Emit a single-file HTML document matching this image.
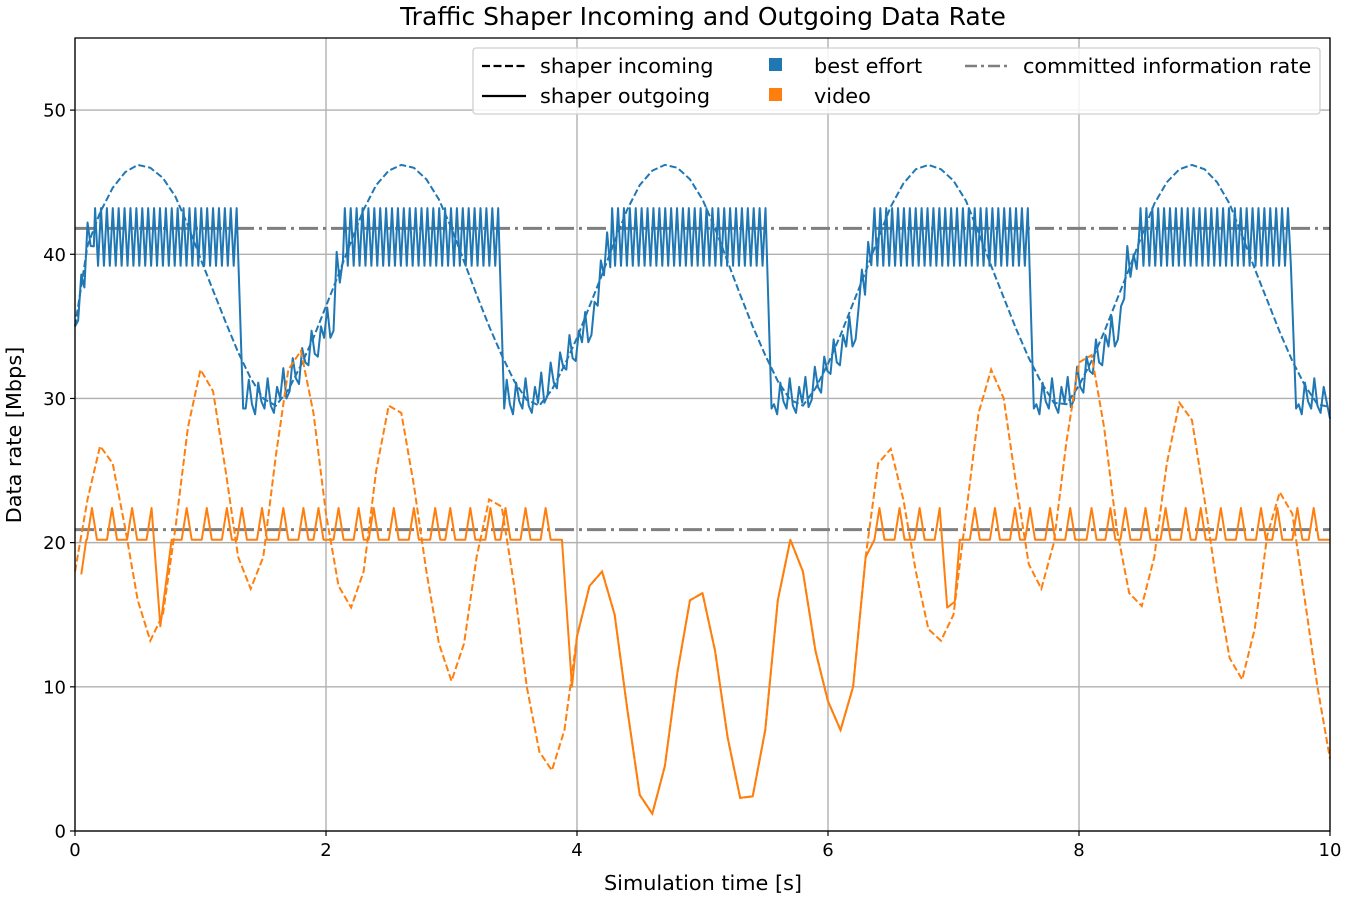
<!DOCTYPE html>
<html><head><meta charset="utf-8"><style>
body{margin:0;background:#fff;}
svg{display:block;font-family:"DejaVu Sans","Liberation Sans",sans-serif;}
</style></head><body>
<svg id="chart" width="1350" height="900" viewBox="0 0 1350 900" xmlns="http://www.w3.org/2000/svg"></svg>
<script>
// ---- data ----
const xTicks = [0, 2, 4, 6, 8, 10];
const yTicks = [0, 10, 20, 30, 40, 50];
const sampleTimes = [0,0.1,0.2,0.3,0.4,0.5,0.6,0.7,0.8,0.9,1,1.1,1.2,1.3,1.4,1.5,1.6,1.7,1.8,1.9,2,2.1,2.2,2.3,2.4,2.5,2.6,2.7,2.8,2.9,3,3.1,3.2,3.3,3.4,3.5,3.6,3.7,3.8,3.9,4,4.1,4.2,4.3,4.4,4.5,4.6,4.7,4.8,4.9,5,5.1,5.2,5.3,5.4,5.5,5.6,5.7,5.8,5.9,6,6.1,6.2,6.3,6.4,6.5,6.6,6.7,6.8,6.9,7,7.1,7.2,7.3,7.4,7.5,7.6,7.7,7.8,7.9,8,8.1,8.2,8.3,8.4,8.5,8.6,8.7,8.8,8.9,9,9.1,9.2,9.3,9.4,9.5,9.6,9.7,9.8,9.9,10];
const beIncoming = [35,40.6,42.9,44.6,45.7,46.2,46.0,45.3,44.0,42.0,39.7,37.5,35.3,33.2,31.4,30.0,29.5,30.6,32.3,34.2,36.4,38.6,40.9,43.1,44.8,45.8,46.2,46.0,45.2,43.8,41.8,39.5,37.2,35.0,33.0,31.2,29.9,29.5,30.6,32.3,34.2,36.4,38.6,40.9,43.1,44.8,45.8,46.2,46.0,45.2,43.8,41.8,39.5,37.2,35.0,33.0,31.2,29.9,29.5,30.7,32.4,34.4,36.6,38.8,41.1,43.3,44.9,45.9,46.2,45.9,45.1,43.7,41.5,39.2,37.0,34.8,32.8,31.1,29.7,29.6,30.9,32.6,34.6,36.8,39.0,41.3,43.5,45.0,45.9,46.2,45.9,45.0,43.5,41.3,39.0,36.8,34.6,32.6,30.9,29.6,29.4];
const videoIncoming = [18,23,26.7,25.5,21,16,13.2,15,21,28,32,30.5,25,19,16.8,19,26,32,33.3,29,22,17,15.5,18,25,29.5,29,24,18,13,10.4,13,19,23,22.5,17,10,5.5,4.2,7,13.5,17,18,15,8.5,2.5,1.2,4.5,11,16,16.5,12.5,6.5,2.3,2.4,7,16,20.2,18,12.5,9,7,10,19,25.5,26.5,23,18,14,13.2,15,22,29,32,30,24,18.5,16.8,20,27,32.5,33,28,21,16.5,15.6,19,25.5,29.7,28.5,23,17,12,10.5,14,20.5,23.5,22,16,10,5];
const beTeethIntervals = [[0.16,1.31],[2.15,3.39],[4.28,5.52],[6.37,7.61],[8.49,9.7]];
const beTeethHigh = 43.2, beTeethLow = 39.2, beToothHalfPeriod = 0.0235;
const beTroughFloor = 29.3;
const beJitter = [-1.0,0.8,-1.5,1.6,-0.6,-1.2,1.9,-0.8,0.2,-1.4,1.2,-0.4,2.0];
const beTroughJitter = [0,2.0,0.3,-0.4,1.8,0.5,0,2.1,0.2,-0.3,1.5,0.4,2.2,-0.2];
const videoSpikeTimes = [0.135,0.295,0.455,0.61,0.89,1.05,1.21,1.33,1.49,1.66,1.82,1.94,2.1,2.26,2.38,2.54,2.7,2.87,2.99,3.15,3.31,3.43,3.59,3.75,6.41,6.57,6.73,6.89,7.17,7.33,7.49,7.61,7.77,7.93,8.1,8.25,8.37,8.53,8.69,8.85,8.97,9.13,9.29,9.45,9.58,9.74,9.87];
const videoPlateau = 20.2, videoSpikePeak = 22.4;
const videoPlateauIntervals = [[0.05,0.62],[0.77,3.88],[6.37,6.92],[7.05,10]];
const videoFollowInterval = [4.0, 6.3];
const videoEdgeT = [0.05,0.09,0.68,0.77,3.88,3.96,6.37,6.95,7.01,7.05,10];
const videoEdgeV = [17.8,20.2,14.2,20.2,20.2,10,20.2,15.5,15.9,20.2,20.2];
const cirLevels = [41.8, 20.9];

// ---- scales ----
const L=75,R=1330,T=38,B=831, XMAX=10, YMAX=55;
const X = t => L + t*(R-L)/XMAX;
const Y = v => B - v*(B-T)/YMAX;
const NS="http://www.w3.org/2000/svg";
const svg=document.getElementById('chart');
function mk(tag, attrs, parent){const e=document.createElementNS(NS,tag);for(const k in attrs)e.setAttribute(k,attrs[k]);(parent||svg).appendChild(e);return e;}
function interp(arrT,arrV,t){for(let i=0;i<arrT.length-1;i++){if(t>=arrT[i]&&t<=arrT[i+1]){const f=(t-arrT[i])/(arrT[i+1]-arrT[i]);return arrV[i]+f*(arrV[i+1]-arrV[i]);}}return arrV[arrV.length-1];}
const pathD = pts => pts.map((p,i)=>(i?'L':'M')+X(p[0]).toFixed(2)+','+Y(p[1]).toFixed(2)).join('');

// grid
const grid=mk('g',{});


xTicks.forEach(t=>{const l=mk('line',{x1:X(t),x2:X(t),y1:T,y2:B,stroke:'#b0b0b0','stroke-width':1.4},grid);});
yTicks.forEach(v=>{const l=mk('line',{x1:L,x2:R,y1:Y(v),y2:Y(v),stroke:'#b0b0b0','stroke-width':1.4},grid);});

// CIR lines
cirLevels.forEach(v=>{const l=mk('line',{x1:L,x2:R,y1:Y(v),y2:Y(v),stroke:'#7f7f7f','stroke-width':3,'stroke-dasharray':'19,5,3,5'});

});

// BE incoming
const beInPts = sampleTimes.map((t,i)=>[t,beIncoming[i]]);
const p1=mk('path',{d:pathD(beInPts),fill:'none',stroke:'#1f77b4','stroke-width':2,'stroke-dasharray':'7,3'});



// BE outgoing
const beOut=[]; let jk=0, tk=0;
let t=0, lastEnd=-10;
for(let iv=0; iv<=beTeethIntervals.length; iv++){
  const end = iv<beTeethIntervals.length ? beTeethIntervals[iv][0] : 10;
  for(; t<end; t+=0.025){
    const inc = interp(sampleTimes,beIncoming,t);
    const dt = t-lastEnd;
    let v;
    if(dt < 0.75){ v = Math.min(inc, beTroughFloor + Math.max(0, dt-0.3)*12) + beTroughJitter[tk++%beTroughJitter.length]; }
    else { v = inc + (t>0.02?beJitter[jk++%beJitter.length]:0); }
    beOut.push([t, v]);
  }
  if(iv<beTeethIntervals.length){
    const [s,e]=beTeethIntervals[iv]; let k=0;
    for(let tt=s; tt<=e; tt+=beToothHalfPeriod){ beOut.push([tt, k%2?beTeethLow:beTeethHigh]); k++; }
    beOut.push([e+0.03, beTroughFloor]);
    t=e+0.05; lastEnd=e;
  }
}
beOut.push([10,28.6]);
const p2=mk('path',{d:pathD(beOut),fill:'none',stroke:'#1f77b4','stroke-width':2,'stroke-linejoin':'round'});



// video incoming
const vInPts = sampleTimes.map((t,i)=>[t,videoIncoming[i]]);
const p3=mk('path',{d:pathD(vInPts),fill:'none',stroke:'#ff7f0e','stroke-width':2,'stroke-dasharray':'7,3'});



// video outgoing
const vOut=[];
videoEdgeT.forEach((t,i)=>vOut.push([t,videoEdgeV[i]]));
videoSpikeTimes.forEach(s=>{
  const iv=videoPlateauIntervals.find(r=>s>=r[0]&&s<=r[1]); if(!iv) return;
  [[s-0.04,videoPlateau],[s,videoSpikePeak],[s+0.04,videoPlateau]].forEach(p=>{if(p[0]>=iv[0]&&p[0]<=iv[1])vOut.push(p);});
});
sampleTimes.forEach((t,i)=>{if(t>=videoFollowInterval[0]&&t<=videoFollowInterval[1])vOut.push([t,videoIncoming[i]]);});
vOut.sort((a,b)=>a[0]-b[0]);
const p4=mk('path',{d:pathD(vOut),fill:'none',stroke:'#ff7f0e','stroke-width':2,'stroke-linejoin':'round'});



// axes frame
const fr=mk('rect',{x:L,y:T,width:R-L,height:B-T,fill:'none',stroke:'#000','stroke-width':1.3});



// ticks & labels
xTicks.forEach(v=>{mk('line',{x1:X(v),x2:X(v),y1:B,y2:B+5,stroke:'#000','stroke-width':1.2});
 const tx=mk('text',{x:X(v),y:B+25,'text-anchor':'middle','font-size':18},svg); tx.textContent=v;
 
 });
yTicks.forEach(v=>{mk('line',{x1:L-5,x2:L,y1:Y(v),y2:Y(v),stroke:'#000','stroke-width':1.2});
 const tx=mk('text',{x:L-9,y:Y(v)+6.5,'text-anchor':'end','font-size':18},svg); tx.textContent=v;
 
 });
</script>
<div style="position:absolute;left:0;top:0;width:1350px;height:900px;pointer-events:none;">
<svg width="1350" height="900" style="position:absolute;left:0;top:0;font-family:'DejaVu Sans','Liberation Sans',sans-serif;">
<text x="703" y="25" text-anchor="middle" font-size="25">Traffic Shaper Incoming and Outgoing Data Rate</text>
<text x="703" y="890" text-anchor="middle" font-size="20.8">Simulation time [s]</text>
<text x="0" y="0" transform="translate(21,435) rotate(-90)" text-anchor="middle" font-size="20.8">Data rate [Mbps]</text>
<g>
<rect x="473" y="48" width="847" height="66" fill="#fff" fill-opacity="0.85" stroke="#d0d0d0" stroke-width="1.3" rx="3"/>
<line x1="482" y1="66" x2="526" y2="66" stroke="#000" stroke-width="2.2" stroke-dasharray="8,3.5"/>
<text x="540" y="73" font-size="20.8">shaper incoming</text>
<line x1="482" y1="96" x2="526" y2="96" stroke="#000" stroke-width="2.2"/>
<text x="540" y="103" font-size="20.8">shaper outgoing</text>
<rect x="769" y="58" width="13" height="13" fill="#1f77b4"/>
<text x="814" y="73" font-size="20.8">best effort</text>
<rect x="769" y="88" width="13" height="13" fill="#ff7f0e"/>
<text x="814" y="103" font-size="20.8">video</text>
<line x1="965" y1="66" x2="1009" y2="66" stroke="#7f7f7f" stroke-width="2.5" stroke-dasharray="12,4,3,4"/>
<text x="1023" y="73" font-size="20.8">committed information rate</text>
</g>
</svg>
</div>
</body></html>
